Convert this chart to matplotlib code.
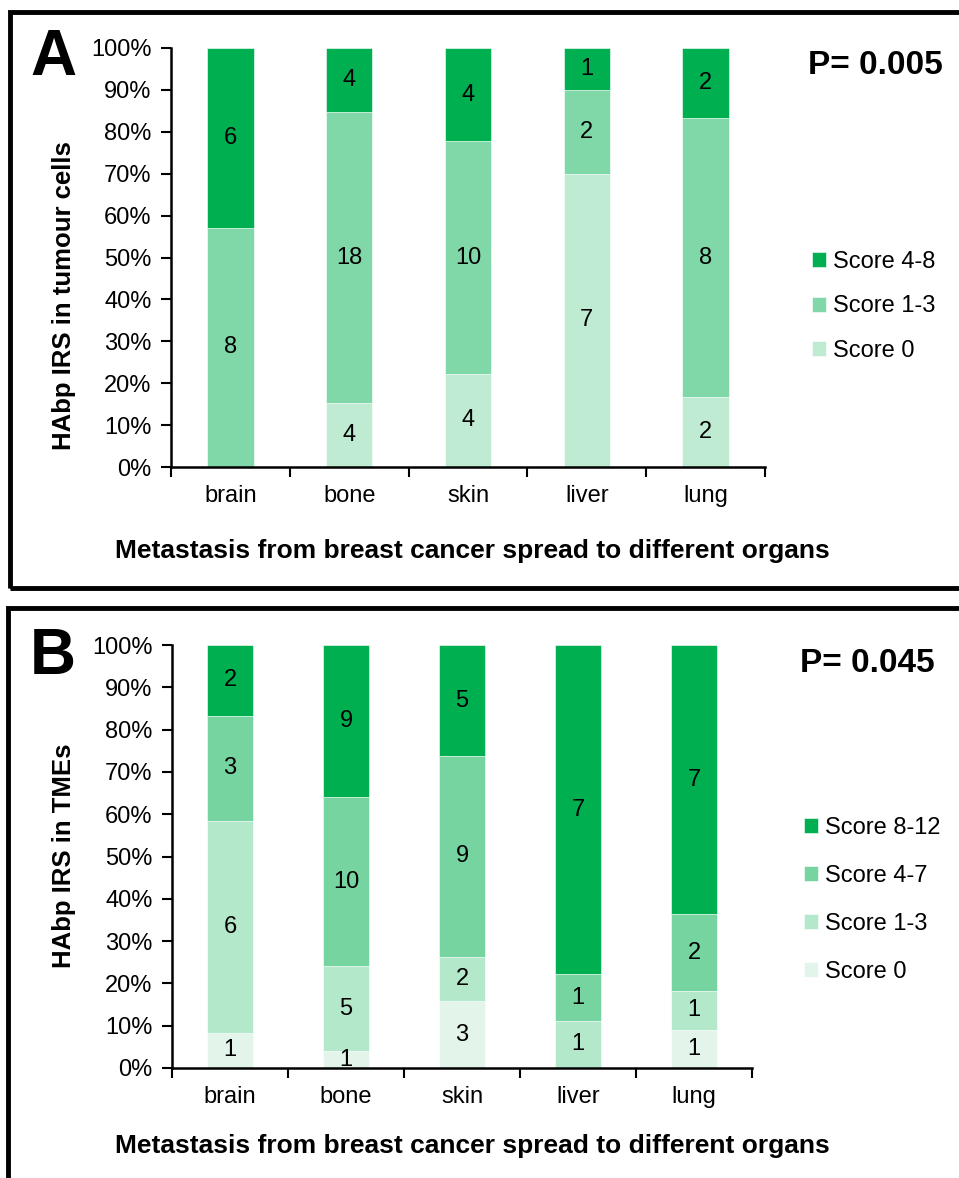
import matplotlib.pyplot as plt
import matplotlib.patches as patches
import numpy as np

plt.rcParams['font.family'] = ['Liberation Sans', 'DejaVu Sans']

organs = ['brain', 'bone', 'skin', 'liver', 'lung']

# panel A: counts per score group (bottom to top)
a_labels = ['Score 0', 'Score 1-3', 'Score 4-8']
a_score0 = [0, 4, 4, 7, 2]
a_score13 = [8, 18, 10, 2, 8]
a_score48 = [6, 4, 4, 1, 2]
a_colors = ['#C0EBD3', '#80D8A8', '#00B050']

# panel B
b_labels = ['Score 0', 'Score 1-3', 'Score 4-7', 'Score 8-12']
b_score0 = [1, 1, 3, 0, 1]
b_score13 = [6, 5, 2, 1, 1]
b_score47 = [3, 10, 9, 1, 2]
b_score812 = [2, 9, 5, 7, 7]
b_colors = ['#E3F5EA', '#B3E8CB', '#76D4A0', '#00B050']

W, H = 959, 1178
fig = plt.figure(figsize=(W / 100, H / 100), dpi=100)


def px(x0, y0, x1, y1):
    # pixel box -> figure fraction [left, bottom, width, height]
    return [x0 / W, 1 - y1 / H, (x1 - x0) / W, (y1 - y0) / H]


def stacked(ax, series, colors, labels):
    counts = np.array(series, dtype=float)
    totals = counts.sum(axis=0)
    pct = counts / totals * 100
    x = np.arange(len(organs))
    bottom = np.zeros(len(organs))
    handles = []
    for k in range(len(series)):
        h = ax.bar(x, pct[k], 0.39, bottom=bottom, color=colors[k],
                   edgecolor='white', linewidth=0.4, label=labels[k])
        handles.append(h)
        for i in range(len(organs)):
            if counts[k][i] > 0:
                ax.text(x[i], bottom[i] + pct[k][i] / 2, '%d' % counts[k][i],
                        ha='center', va='center', fontsize=17)
        bottom += pct[k]
    ax.set_ylim(0, 100)
    ax.set_xlim(-0.5, 4.5)
    ax.set_yticks(np.arange(0, 101, 10))
    ax.set_yticklabels(['%d%%' % v for v in range(0, 101, 10)], fontsize=17)
    ax.set_xticks(np.arange(-0.5, 5, 1))
    ax.set_xticklabels([])
    ax.set_xticks(x, minor=True)
    ax.set_xticklabels(organs, minor=True, fontsize=17)
    ax.tick_params(axis='x', which='minor', length=0, pad=13)
    ax.tick_params(axis='both', which='major', length=7, width=1.5, direction='out')
    ax.tick_params(axis='y', pad=7)
    for s in ['top', 'right']:
        ax.spines[s].set_visible(False)
    for s in ['left', 'bottom']:
        ax.spines[s].set_linewidth(1.8)
    return handles


xlab = 'Metastasis from breast cancer spread to different organs'

# panel A
axA = fig.add_axes(px(171, 48, 765, 467))
hA = stacked(axA, [a_score0, a_score13, a_score48], a_colors, a_labels)
fig.text(64 / W, 1 - 296 / H, 'HAbp IRS in tumour cells', rotation=90,
         ha='center', va='center', fontsize=18.5, fontweight='bold')
fig.text(472 / W, 1 - 551 / H, xlab, ha='center', va='center', fontsize=19, fontweight='bold')
fig.text(30 / W, 1 - 58 / H, 'A', fontsize=46, fontweight='bold', va='center', ha='left')
fig.text(808 / W, 1 - 66 / H, 'P= 0.005', fontsize=24, fontweight='bold', va='center', ha='left')
fig.legend(hA[::-1], a_labels[::-1], loc='upper left', bbox_to_anchor=(812 / W, 1 - 251 / H),
           frameon=False, fontsize=17, handlelength=0.6, handleheight=0.6,
           handletextpad=0.3, labelspacing=0.95, borderpad=0, borderaxespad=0)

# panel B
axB = fig.add_axes(px(172, 645, 752, 1068))
hB = stacked(axB, [b_score0, b_score13, b_score47, b_score812], b_colors, b_labels)
fig.text(64 / W, 1 - 856 / H, 'HAbp IRS in TMEs', rotation=90,
         ha='center', va='center', fontsize=18.5, fontweight='bold')
fig.text(472 / W, 1 - 1146 / H, xlab, ha='center', va='center', fontsize=19, fontweight='bold')
fig.text(30 / W, 1 - 657 / H, 'B', fontsize=46, fontweight='bold', va='center', ha='left')
fig.text(800 / W, 1 - 663 / H, 'P= 0.045', fontsize=24, fontweight='bold', va='center', ha='left')
fig.legend(hB[::-1], b_labels[::-1], loc='upper left', bbox_to_anchor=(804 / W, 1 - 817 / H),
           frameon=False, fontsize=17, handlelength=0.6, handleheight=0.6,
           handletextpad=0.3, labelspacing=1.1, borderpad=0, borderaxespad=0)

# panel frames
for (x0, y0, x1, y1) in [(10, 12, 990, 588), (8, 608, 990, 1210)]:
    fig.patches.append(patches.Rectangle((x0 / W, 1 - y1 / H), (x1 - x0) / W, (y1 - y0) / H,
                                         transform=fig.transFigure, fill=False,
                                         edgecolor='black', linewidth=3.5, clip_on=False))

fig.savefig('out.png', dpi=100)
